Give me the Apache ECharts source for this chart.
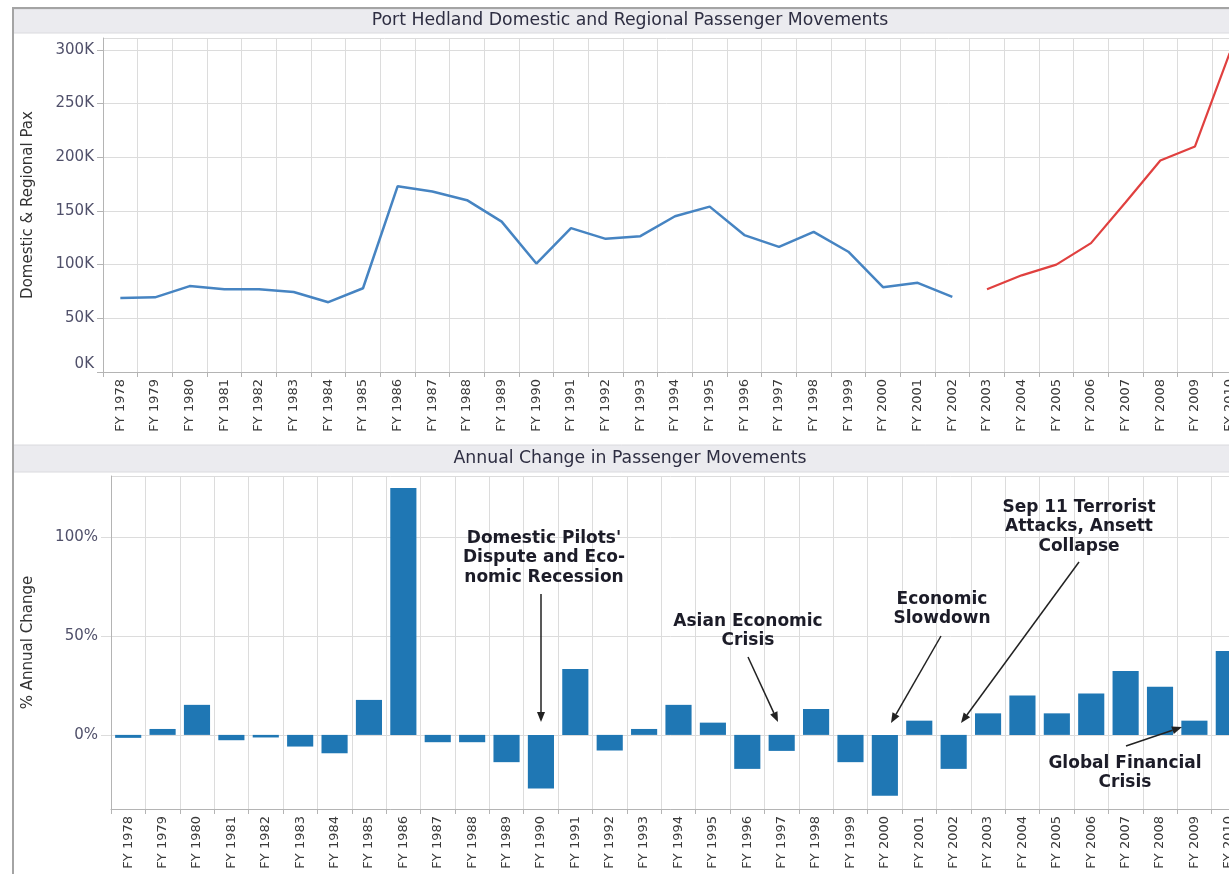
<!DOCTYPE html>
<html>
<head>
<meta charset="utf-8">
<script src="https://cdn.jsdelivr.net/npm/echarts@6/dist/echarts.min.js"></script>
<style>
html,body{margin:0;padding:0;background:#fff;}
#chart{width:1229px;height:874px;}
</style>
</head>
<body>
<div id="chart"></div>
<script>
// ---- data ----
const categories = ['FY 1978','FY 1979','FY 1980','FY 1981','FY 1982','FY 1983','FY 1984','FY 1985','FY 1986','FY 1987','FY 1988','FY 1989','FY 1990','FY 1991','FY 1992','FY 1993','FY 1994','FY 1995','FY 1996','FY 1997','FY 1998','FY 1999','FY 2000','FY 2001','FY 2002','FY 2003','FY 2004','FY 2005','FY 2006','FY 2007','FY 2008','FY 2009','FY 2010'];
// Domestic & regional pax (thousands), FY1978-FY2002 (blue)
const paxEarly = [69, 69.5, 80, 77, 77, 74.5, 65, 78, 173, 168, 160, 140, 101, 134, 124, 126.5, 145, 154, 127.5, 116.5, 130.5, 112, 79, 83, 70];
// FY2003-FY2010 (red)
const paxLate = [77, 90, 100, 120, 158, 197, 210, 297];
// Annual % change FY1978-FY2010
const pctChange = [-1.5, 3, 15.2, -2.7, -1.3, -5.9, -9.3, 17.7, 124.9, -3.7, -3.7, -13.8, -27.1, 33.3, -7.9, 3.0, 15.2, 6.2, -17.2, -8.1, 13.1, -13.8, -30.8, 7.2, -17.2, 10.9, 19.9, 10.9, 21.0, 32.3, 24.4, 7.2, 42.4];
const topTitle = 'Port Hedland Domestic and Regional Passenger Movements';
const bottomTitle = 'Annual Change in Passenger Movements';
const annotations = [
  {text: "Domestic Pilots'\nDispute and Eco-\nnomic Recession", tx: 544, ty: 558, from: [541, 594], to: [541, 722]},
  {text: 'Asian Economic\nCrisis', tx: 748, ty: 631, from: [748, 657], to: [778, 722]},
  {text: 'Economic\nSlowdown', tx: 942, ty: 609, from: [941, 636], to: [891, 723]},
  {text: 'Sep 11 Terrorist\nAttacks, Ansett\nCollapse', tx: 1079, ty: 527, from: [1079, 562], to: [961, 723]},
  {text: 'Global Financial\nCrisis', tx: 1125, ty: 773, from: [1126, 746], to: [1182, 727]}
];

// ---- build ----
const blueData = categories.map((c, i) => i < paxEarly.length ? paxEarly[i] : null);
const redData = categories.map((c, i) => i >= paxEarly.length ? paxLate[i - paxEarly.length] : null);

const FONT = '"DejaVu Sans", Verdana, sans-serif';
const gridColor = '#dcdcdc';
const axisColor = '#b4b4b4';

function arrowGraphics(a) {
  const [x1, y1] = a.from, [x2, y2] = a.to;
  const ang = Math.atan2(y2 - y1, x2 - x1);
  const L = 10, W = 4;
  const c = Math.cos(ang), s = Math.sin(ang);
  const bx = x2 - L * c, by = y2 - L * s;
  return [
    {type: 'line', shape: {x1: x1, y1: y1, x2: bx, y2: by}, style: {stroke: '#222', lineWidth: 1.5}, z: 100},
    {type: 'polygon', shape: {points: [[x2, y2], [bx + W * s, by - W * c], [bx - W * s, by + W * c]]}, style: {fill: '#222'}, z: 100}
  ];
}

const graphics = [
  {type: 'rect', shape: {x: 13, y: 9, width: 1240, height: 24}, style: {fill: '#ebebef', stroke: '#dadade', lineWidth: 1}, z: -10},
  {type: 'rect', shape: {x: 13, y: 445, width: 1240, height: 27}, style: {fill: '#ebebef', stroke: '#dadade', lineWidth: 1}, z: -10},
  {type: 'line', shape: {x1: 13, y1: 8, x2: 13, y2: 874}, style: {stroke: '#a4a4a4', lineWidth: 2}, z: 50},
  {type: 'line', shape: {x1: 12, y1: 8, x2: 1229, y2: 8}, style: {stroke: '#a4a4a4', lineWidth: 2}, z: 50},
  {type: 'text', x: 630, y: 21, style: {text: topTitle, font: '17.3px ' + FONT, fill: '#2e2e42', align: 'center', verticalAlign: 'middle', textAlign: 'center', textVerticalAlign: 'middle'}, z: 50},
  {type: 'text', x: 630, y: 459, style: {text: bottomTitle, font: '17.3px ' + FONT, fill: '#2e2e42', align: 'center', verticalAlign: 'middle', textAlign: 'center', textVerticalAlign: 'middle'}, z: 50}
];
annotations.forEach(a => {
  graphics.push({type: 'text', x: a.tx, y: a.ty, style: {text: a.text, font: 'bold 17px ' + FONT, fill: '#1c1c28', align: 'center', verticalAlign: 'middle', textAlign: 'center', textVerticalAlign: 'middle', lineHeight: 19.5}, z: 100});
  arrowGraphics(a).forEach(g => graphics.push(g));
});

const xAxisCommon = {
  type: 'category',
  data: categories,
  boundaryGap: true,
  axisLine: {show: true, onZero: false, lineStyle: {color: axisColor, width: 1}},
  axisTick: {show: true, length: 5, lineStyle: {color: axisColor}},
  splitLine: {show: true, lineStyle: {color: gridColor, width: 1}},
  axisLabel: {interval: 0, rotate: 90, margin: 7, fontFamily: FONT, fontSize: 13, color: '#3a3a3a'}
};

const option = {
  backgroundColor: '#ffffff',
  animation: false,
  graphic: graphics,
  grid: [
    {left: 103, top: 38, width: 1144, height: 334, containLabel: false, outerBoundsMode: 'none'},
    {left: 111, top: 476, width: 1135, height: 333, containLabel: false, outerBoundsMode: 'none'}
  ],
  xAxis: [
    Object.assign({gridIndex: 0}, xAxisCommon),
    Object.assign({gridIndex: 1}, xAxisCommon)
  ],
  yAxis: [
    {
      gridIndex: 0, type: 'value', min: 0, max: 311, interval: 50,
      name: 'Domestic & Regional Pax', nameLocation: 'middle', nameGap: 67, nameRotate: 90,
      nameTextStyle: {fontFamily: FONT, fontSize: 15, color: '#333'},
      axisLine: {show: true, lineStyle: {color: axisColor}},
      axisTick: {show: true, length: 6, lineStyle: {color: axisColor}},
      splitLine: {show: true, lineStyle: {color: gridColor}},
      axisLabel: {showMaxLabel: false, margin: 9, fontFamily: FONT, fontSize: 15, color: '#50506a', verticalAlignMinLabel: 'bottom', formatter: v => v + 'K'}
    },
    {
      gridIndex: 1, type: 'value', min: -37.5, max: 131, splitNumber: 3, minInterval: 50, maxInterval: 50,
      name: '% Annual Change', nameLocation: 'middle', nameGap: 75, nameRotate: 90,
      nameTextStyle: {fontFamily: FONT, fontSize: 15, color: '#333'},
      axisLine: {show: true, lineStyle: {color: axisColor}},
      axisTick: {show: true, length: 10, lineStyle: {color: gridColor}},
      splitLine: {show: true, lineStyle: {color: gridColor}},
      axisLabel: {showMinLabel: false, showMaxLabel: false, margin: 13, fontFamily: FONT, fontSize: 15, color: '#50506a', formatter: v => v + '%'}
    }
  ],
  series: [
    {type: 'line', xAxisIndex: 0, yAxisIndex: 0, data: blueData, symbol: 'none', connectNulls: false,
     lineStyle: {color: '#4684c2', width: 2.5}, itemStyle: {color: '#4684c2'}, z: 5},
    {type: 'line', xAxisIndex: 0, yAxisIndex: 0, data: redData, symbol: 'none', connectNulls: false,
     lineStyle: {color: '#e0403f', width: 2.2}, itemStyle: {color: '#e0403f'}, z: 5},
    {type: 'bar', xAxisIndex: 1, yAxisIndex: 1, data: pctChange, barWidth: '76%',
     itemStyle: {color: '#1f77b4'}, z: 5}
  ]
};

const chart = echarts.init(document.getElementById('chart'), null, {renderer: 'canvas', width: 1229, height: 874});
chart.setOption(option);
</script>
</body>
</html>
